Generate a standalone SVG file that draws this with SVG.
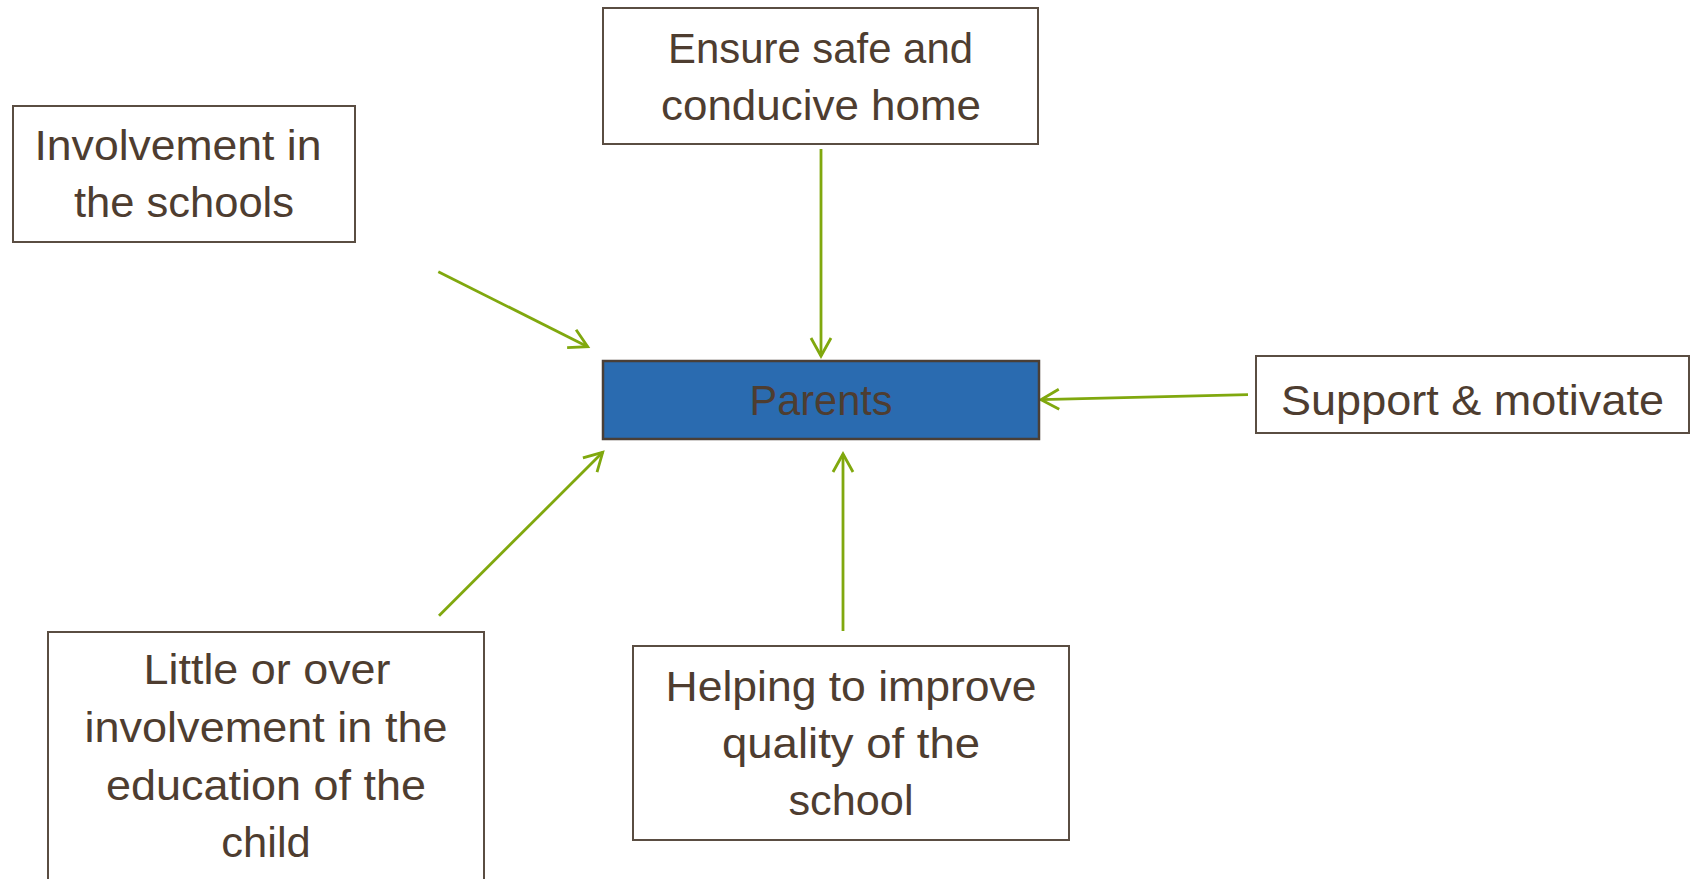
<svg xmlns="http://www.w3.org/2000/svg" width="1691" height="879" viewBox="0 0 1691 879">
  <style>
    .box { fill: #ffffff; stroke: #5a4d42; stroke-width: 2; }
    .core { fill: #2a6bb0; stroke: #4a3f37; stroke-width: 2.5; }
    .lbl { font-family: "Liberation Sans", Arial, sans-serif; font-size: 43px; fill: #4e3d30; text-anchor: middle; }
    .conn { stroke: #80a80e; stroke-width: 2.8; fill: none; marker-end: url(#arrow); }
  </style>
  <defs>
    <marker id="arrow" markerUnits="userSpaceOnUse" viewBox="-22 -13 26 26" markerWidth="26" markerHeight="26" refX="0" refY="0" orient="auto">
      <path d="M -18 -10 L 0 0 L -18 10" fill="none" stroke="#80a80e" stroke-width="2.8" stroke-linejoin="miter"/>
    </marker>
  </defs>
  <rect width="1691" height="879" fill="#ffffff"/>

  <g id="connectors">
    <line class="conn" x1="821" y1="149" x2="821" y2="356"/>
    <line class="conn" x1="1248" y1="394.7" x2="1041" y2="399.7"/>
    <line class="conn" x1="843" y1="631" x2="843" y2="454"/>
    <line class="conn" x1="438.3" y1="271.7" x2="587.7" y2="346.7"/>
    <line class="conn" x1="439" y1="615.7" x2="602.7" y2="452.3"/>
  </g>

  <g id="node-parents">
    <rect class="core" x="603" y="361" width="436" height="78"/>
    <text class="lbl" x="821" y="415" textLength="143" lengthAdjust="spacingAndGlyphs">Parents</text>
  </g>

  <g id="node-ensure">
    <rect class="box" x="603" y="8" width="435" height="136"/>
    <text class="lbl" x="820.5" y="63" textLength="305" lengthAdjust="spacingAndGlyphs">Ensure safe and</text>
    <text class="lbl" x="821" y="120" textLength="320" lengthAdjust="spacingAndGlyphs">conducive home</text>
  </g>

  <g id="node-involvement">
    <rect class="box" x="13" y="106" width="342" height="136"/>
    <text class="lbl" x="178" y="160" textLength="287" lengthAdjust="spacingAndGlyphs">Involvement in</text>
    <text class="lbl" x="184" y="217" textLength="220" lengthAdjust="spacingAndGlyphs">the schools</text>
  </g>

  <g id="node-support">
    <rect class="box" x="1256" y="356" width="433" height="77"/>
    <text class="lbl" x="1472.5" y="415" textLength="383" lengthAdjust="spacingAndGlyphs">Support &amp; motivate</text>
  </g>

  <g id="node-little">
    <rect class="box" x="48" y="632" width="436" height="270"/>
    <text class="lbl" x="267" y="684" textLength="247" lengthAdjust="spacingAndGlyphs">Little or over</text>
    <text class="lbl" x="266" y="742" textLength="363" lengthAdjust="spacingAndGlyphs">involvement in the</text>
    <text class="lbl" x="266" y="800" textLength="320" lengthAdjust="spacingAndGlyphs">education of the</text>
    <text class="lbl" x="266" y="857" textLength="89.5" lengthAdjust="spacingAndGlyphs">child</text>
  </g>

  <g id="node-helping">
    <rect class="box" x="633" y="646" width="436" height="194"/>
    <text class="lbl" x="851" y="701" textLength="371" lengthAdjust="spacingAndGlyphs">Helping to improve</text>
    <text class="lbl" x="851" y="758" textLength="258" lengthAdjust="spacingAndGlyphs">quality of the</text>
    <text class="lbl" x="851" y="815" textLength="125" lengthAdjust="spacingAndGlyphs">school</text>
  </g>
</svg>
